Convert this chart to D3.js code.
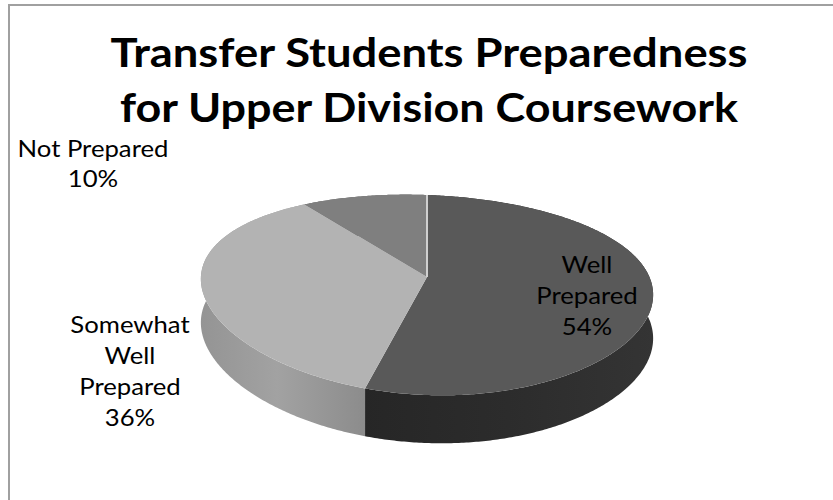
<!DOCTYPE html>
<html>
<head>
<meta charset="utf-8">
<script src="https://cdn.jsdelivr.net/npm/d3@7"></script>
<style>
  html, body { margin: 0; padding: 0; background: #fff; }
  svg { display: block; }
</style>
</head>
<body>
<script>
// ---- data ----
const categories = ["Well Prepared", "Somewhat Well Prepared", "Not Prepared"];
const values = [54, 36, 10];
const labelNames = [["Well", "Prepared"], ["Somewhat", "Well", "Prepared"], ["Not", "Prepared"]];
const titleLines = ["Transfer Students Preparedness", "for Upper Division Coursework"];

// ---- layout / style ----
const W = 833, H = 500;
const topColors = ["#595959", "#b3b3b3", "#7f7f7f"];
const sideStops = [
  [["#262626", 0], ["#2c2c2c", 0.5], ["#343434", 1]],
  [["#949494", 0], ["#a2a2a2", 0.45], ["#8a8a8a", 1]],
  [["#6a6a6a", 0], ["#6a6a6a", 1]]
];

const svg = d3.select("body").append("svg")
  .attr("width", W).attr("height", H);

svg.append("rect").attr("width", W).attr("height", H).attr("fill", "#fff");

// chart-area frame (top and left edges fall inside the page)
svg.append("path")
  .attr("d", `M9,${H + 2} V5 H${W + 2}`)
  .attr("fill", "none")
  .attr("stroke", "#a0a0a0")
  .attr("stroke-width", 2);

// ---- perspective projection of a tilted disc ----
const cx = 427, cy = 277;      // projected centre of the top face
const rx = 225, ry = 96.8;     // radii before perspective division
const kx = 0.10, ky = 0.18;    // foreshortening (front larger than back)
const kd = 0.10;               // foreshortening of the wall height
const skew = 0.035;            // slight roll of the disc
const depth = 48;              // wall height at the front edge

function proj(theta, r = 1, down = 0) {
  const u = r * Math.sin(theta), v = -r * Math.cos(theta);
  const dx = rx * u / (1 - kx * v);
  const dy = ry * v / (1 - ky * v);
  return [cx + dx, cy + dy + skew * dx + down * depth * (1 - kd) / (1 - kd * v)];
}

function arcPoints(a0, a1, down) {
  const n = Math.max(2, Math.ceil((a1 - a0) / 0.01));
  return d3.range(n + 1).map(i => proj(a0 + (a1 - a0) * i / n, 1, down));
}

const pie = d3.pie().sort(null).value(d => d)(values);
const line = d3.line();

// gradients for the curved walls
const defs = svg.append("defs");
sideStops.forEach((stops, i) => {
  const g = defs.append("linearGradient")
    .attr("id", "side" + i)
    .attr("gradientUnits", "userSpaceOnUse")
    .attr("x1", i === 0 ? 360 : 200).attr("x2", i === 0 ? 655 : 372)
    .attr("y1", 0).attr("y2", 0);
  stops.forEach(([c, o]) => g.append("stop").attr("offset", o).attr("stop-color", c));
});

const chart = svg.append("g");

// outer walls
chart.selectAll("path.side").data(pie).join("path")
  .attr("class", "side")
  .attr("d", d => {
    const topEdge = arcPoints(d.startAngle, d.endAngle, 0);
    const botEdge = arcPoints(d.startAngle, d.endAngle, 1).reverse();
    return line(topEdge.concat(botEdge)) + "Z";
  })
  .attr("fill", (d, i) => `url(#side${i})`);

// top faces
chart.selectAll("path.top").data(pie).join("path")
  .attr("class", "top")
  .attr("d", d => line([proj(0, 0)].concat(arcPoints(d.startAngle, d.endAngle, 0))) + "Z")
  .attr("fill", (d, i) => topColors[i]);

// light edge where the first slice begins at the back
chart.append("path")
  .attr("d", line([proj(0, 0), proj(0, 1)]))
  .attr("stroke", "#cfcfcf")
  .attr("stroke-width", 2);

// ---- title ----
const fontFamily = "Lato, 'Open Sans', sans-serif";
const titleWidths = [637, 618];
svg.append("g").selectAll("text").data(titleLines).join("text")
  .attr("x", 429)
  .attr("y", (d, i) => 67 + i * 55)
  .attr("text-anchor", "middle")
  .attr("font-family", fontFamily)
  .attr("font-weight", "bold")
  .attr("font-size", 41)
  .attr("fill", "#000")
  .attr("textLength", (d, i) => titleWidths[i])
  .attr("lengthAdjust", "spacingAndGlyphs")
  .text(d => d);

// ---- data labels ----
const labelPos = [
  { x: 587, y: 273, gap: 31, join: false },
  { x: 130, y: 333, gap: 31, join: false },
  { x: 93, y: 157, gap: 30, join: true }
];
const labelStretch = 1.07;

pie.forEach((d, i) => {
  const names = labelPos[i].join ? [labelNames[i].join(" ")] : labelNames[i];
  const lines = names.concat([d3.format(".0f")(d.value) + "%"]);
  svg.append("g").selectAll("text").data(lines).join("text")
    .attr("x", labelPos[i].x)
    .attr("y", (t, j) => labelPos[i].y + j * labelPos[i].gap)
    .attr("text-anchor", "middle")
    .attr("font-family", fontFamily)
    .attr("font-size", 24)
    .attr("fill", "#000")
    .text(t => t)
    .each(function () {
      const len = this.getComputedTextLength();
      d3.select(this)
        .attr("textLength", len * labelStretch)
        .attr("lengthAdjust", "spacingAndGlyphs");
    });
});
</script>
</body>
</html>
